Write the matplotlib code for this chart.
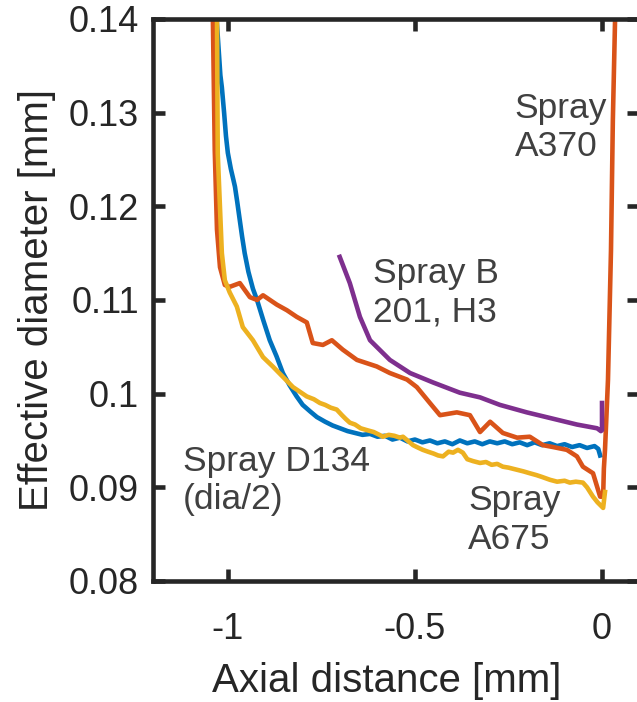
import matplotlib
matplotlib.use('Agg')
import matplotlib.pyplot as plt

plt.rcParams['font.family'] = ['Liberation Sans', 'DejaVu Sans']

# Spray D134 (dia/2) - blue
d134_x = [-1.032, -1.030, -1.025, -1.020, -1.016, -1.010, -1.005, -1.000, -0.992, -0.985,
          -0.981, -0.975, -0.968, -0.962, -0.955, -0.945, -0.933, -0.922, -0.905, -0.888,
          -0.870, -0.853, -0.835, -0.816, -0.800, -0.780, -0.762, -0.740, -0.720, -0.700,
          -0.680, -0.660, -0.640, -0.620, -0.600, -0.580, -0.560, -0.540, -0.520, -0.500,
          -0.480, -0.460, -0.440, -0.420, -0.400, -0.380, -0.360, -0.340, -0.320, -0.300,
          -0.280, -0.260, -0.240, -0.220, -0.200, -0.180, -0.160, -0.140, -0.120, -0.100,
          -0.080, -0.060, -0.040, -0.020, -0.010, -0.005]
d134_y = [0.1450, 0.1400, 0.1370, 0.1340, 0.1327, 0.1300, 0.1275, 0.1257, 0.1240, 0.1228,
          0.1221, 0.1205, 0.1185, 0.1168, 0.1150, 0.1130, 0.1112, 0.1100, 0.1078, 0.1057,
          0.1040, 0.1022, 0.1009, 0.0997, 0.0988, 0.0981, 0.0975, 0.0970, 0.0966, 0.0963,
          0.0960, 0.0958, 0.0956, 0.0957, 0.0954, 0.0955, 0.0951, 0.0953, 0.0949, 0.0951,
          0.0948, 0.0950, 0.0947, 0.0949, 0.0946, 0.0950, 0.0947, 0.0949, 0.0946, 0.0949,
          0.0947, 0.0949, 0.0946, 0.0948, 0.0945, 0.0948, 0.0945, 0.0947, 0.0944, 0.0946,
          0.0943, 0.0945, 0.0942, 0.0944, 0.0941, 0.0934]

# Spray A370 - orange
a370_x = [-1.040, -1.040, -1.035, -1.029, -1.021, -1.008, -0.995, -0.968, -0.941, -0.922,
          -0.906, -0.869, -0.842, -0.816, -0.789, -0.773, -0.746, -0.722, -0.693, -0.655,
          -0.602, -0.567, -0.521, -0.495, -0.460, -0.433, -0.388, -0.353, -0.326, -0.299,
          -0.265, -0.227, -0.193, -0.158, -0.131, -0.094, -0.067, -0.051, -0.024, -0.005,
          0.003, 0.005, 0.008, 0.016, 0.024, 0.029, 0.035, 0.037]
a370_y = [0.1450, 0.1401, 0.1260, 0.1175, 0.1135, 0.1116, 0.1114, 0.1118, 0.1103, 0.1100,
          0.1105, 0.1095, 0.1089, 0.1082, 0.1076, 0.1054, 0.1052, 0.1057, 0.1047, 0.1036,
          0.1029, 0.1022, 0.1015, 0.1007, 0.0990, 0.0977, 0.0980, 0.0977, 0.0959, 0.0970,
          0.0958, 0.0953, 0.0954, 0.0945, 0.0943, 0.0940, 0.0933, 0.0922, 0.0915, 0.0890,
          0.0890, 0.0920, 0.0940, 0.1015, 0.1153, 0.1292, 0.1401, 0.1450]

# Spray A675 - yellow
a675_x = [-1.030, -1.029, -1.027, -1.016, -1.008, -0.995, -0.976, -0.960, -0.933, -0.906,
          -0.880, -0.853, -0.826, -0.789, -0.770, -0.754, -0.740, -0.725, -0.709, -0.695,
          -0.685, -0.674, -0.660, -0.645, -0.628, -0.610, -0.595, -0.586, -0.570, -0.555,
          -0.540, -0.532, -0.520, -0.505, -0.495, -0.479, -0.465, -0.450, -0.438, -0.425,
          -0.410, -0.398, -0.385, -0.372, -0.360, -0.345, -0.326, -0.310, -0.295, -0.280,
          -0.265, -0.250, -0.230, -0.210, -0.193, -0.175, -0.160, -0.139, -0.120, -0.100,
          -0.086, -0.070, -0.051, -0.040, -0.024, -0.012, 0.003, 0.008]
a675_y = [0.1450, 0.1401, 0.1257, 0.1150, 0.1121, 0.1108, 0.1093, 0.1071, 0.1057, 0.1039,
          0.1029, 0.1018, 0.1007, 0.0997, 0.0994, 0.0990, 0.0988, 0.0985, 0.0983, 0.0977,
          0.0973, 0.0969, 0.0967, 0.0963, 0.0961, 0.0959, 0.0956, 0.0954, 0.0956, 0.0955,
          0.0953, 0.0954, 0.0950, 0.0945, 0.0943, 0.0940, 0.0938, 0.0936, 0.0934, 0.0933,
          0.0938, 0.0937, 0.0940, 0.0937, 0.0930, 0.0928, 0.0926, 0.0927, 0.0924, 0.0925,
          0.0922, 0.0921, 0.0919, 0.0917, 0.0915, 0.0913, 0.0911, 0.0908, 0.0906, 0.0907,
          0.0905, 0.0906, 0.0905, 0.0900, 0.0890, 0.0884, 0.0878, 0.0895]

# Spray B 201, H3 - purple
b201_x = [-0.701, -0.674, -0.647, -0.620, -0.567, -0.513, -0.452, -0.380, -0.326, -0.273,
          -0.201, -0.139, -0.067, -0.013, -0.003, 0.0, 0.0]
b201_y = [0.1146, 0.1118, 0.1082, 0.1057, 0.1036, 0.1022, 0.1012, 0.1001, 0.0996, 0.0988,
          0.0980, 0.0974, 0.0967, 0.0963, 0.0960, 0.0961, 0.0990]

labels = ['Spray D134\n(dia/2)', 'Spray\nA370', 'Spray\nA675', 'Spray B\n201, H3']
label_pos = [(-1.120, 0.0945), (-0.233, 0.1322), (-0.358, 0.0903), (-0.612, 0.1146)]

colors = ['#0072BD', '#D95319', '#EDB120', '#7E2F8E']
dark = '#262626'

fig = plt.figure(figsize=(6.37, 7.02), dpi=100)
ax = fig.add_axes([0.2402, 0.1724, 0.7636, 0.8006])

lw = 3.3
ax.plot(d134_x, d134_y, color=colors[0], lw=lw)
ax.plot(a370_x, a370_y, color=colors[1], lw=lw)
ax.plot(a675_x, a675_y, color=colors[2], lw=lw)
ax.plot(b201_x, b201_y, color=colors[3], lw=lw)

for txt, (tx, ty) in zip(labels, label_pos):
    ax.text(tx, ty, txt, ha='left', va='top', fontsize=25.5, color='#404040')

ax.set_xlim(-1.2, 0.1)
ax.set_ylim(0.08, 0.14)
ax.set_xticks([-1, -0.5, 0])
ax.set_xticklabels(['-1', '-0.5', '0'])
ax.set_yticks([0.08, 0.09, 0.10, 0.11, 0.12, 0.13, 0.14])
ax.set_yticklabels(['0.08', '0.09', '0.1', '0.11', '0.12', '0.13', '0.14'])

for sp in ax.spines.values():
    sp.set_linewidth(3.3)
    sp.set_color(dark)
ax.tick_params(direction='in', length=8.5, width=3.3, color=dark, labelcolor=dark,
               labelsize=26, top=True, right=True)
ax.tick_params(axis='y', pad=10)
ax.tick_params(axis='x', pad=22)

ax.set_xlabel('Axial distance [mm]', fontsize=29, color=dark)
ax.set_ylabel('Effective diameter [mm]', fontsize=29, color=dark)
ax.xaxis.set_label_coords(0.481, -0.144)
ax.yaxis.set_label_coords(-0.199, 0.5)

fig.savefig('out.png', dpi=100)
